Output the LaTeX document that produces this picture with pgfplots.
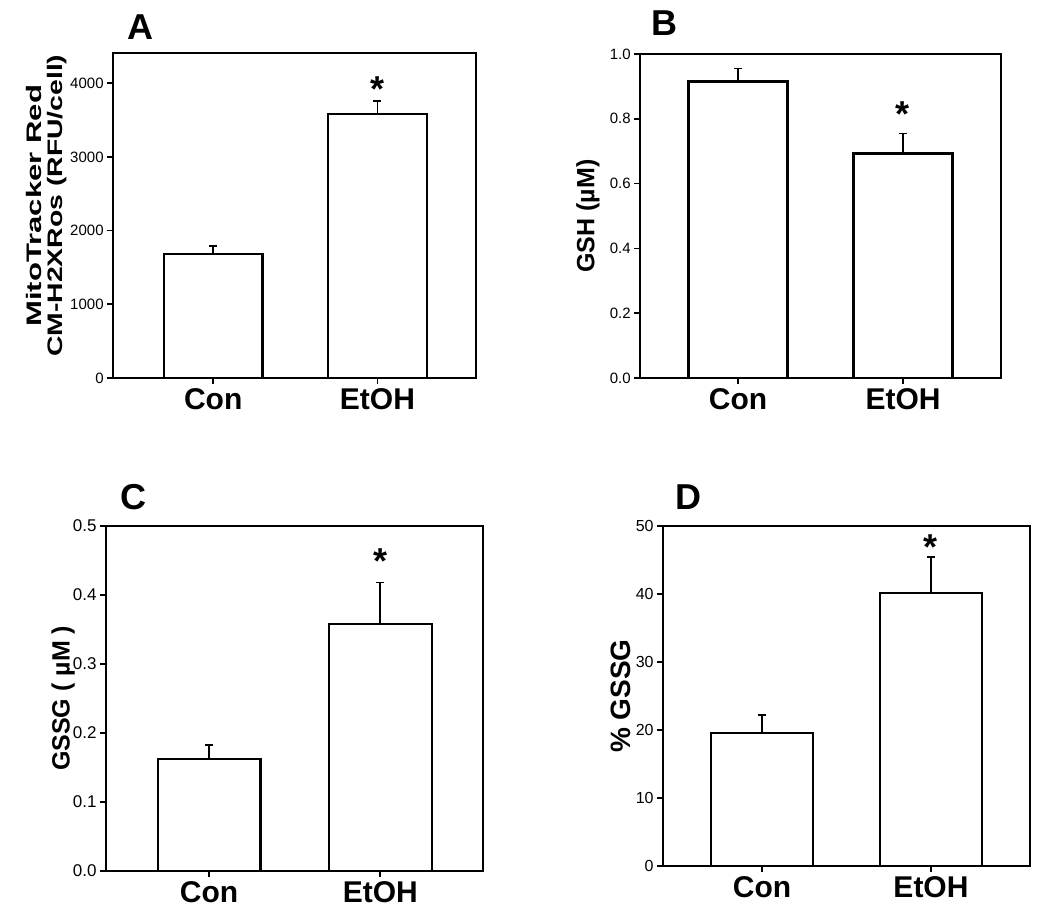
\documentclass[border=0pt]{standalone}
\usepackage{fontspec}
\setmainfont{Liberation Sans}
\usepackage{pgfplots}
\pgfplotsset{compat=1.18}
\usepackage{graphicx}

\pgfplotsset{
  panel/.style={
    anchor=south west, scale only axis,
    ybar, bar width=0.6, ymin=0,
    axis line style={line width=1pt},
    tick pos=left, tick align=outside,
    major tick length=3pt,
    tick style={black, line width=0.8pt},
    xtick={1,2}, xticklabels={Con,EtOH},
    xticklabel style={font=\bfseries\fontsize{15}{15}\selectfont, inner sep=2pt},
    /pgf/number format/assume math mode=true,
    /pgf/number format/1000 sep={},
    scaled y ticks=false,
    yticklabel style={inner sep=1.5pt},
    ylabel style={font=\bfseries\fontsize{12.5}{13}\selectfont, align=center},
  },
  barplot/.style={draw=black, fill=white, line width=1.1pt,
    error bars/.cd, y dir=plus, y explicit,
    error bar style={line width=0.8pt},
    error mark options={rotate=90, line width=0.8pt, mark size=2pt}},
}
\tikzset{sigstar/.style={font=\bfseries\fontsize{18}{18}\selectfont, inner sep=0pt, anchor=north}}

\begin{document}
\begin{tikzpicture}
\useasboundingbox (0,0) rectangle (525pt,455.5pt);

% A: MitoTracker
\begin{axis}[panel, at={(56.5pt,266.5pt)}, width=181.5pt, height=162.5pt,
  xmin=0.39, xmax=2.60, ymax=4410, ytick={0,1000,2000,3000,4000},
  yticklabel style={font=\fontsize{7.5}{9}\selectfont},
  ylabel shift=-3.5pt,
  ylabel style={font=\bfseries\fontsize{10.5}{10.5}\selectfont, at={(ticklabel cs:0.53)}},
  ylabel={\scalebox{1.48}[1]{MitoTracker Red}\\\scalebox{1.35}[1]{CM-H2XRos (RFU/cell)}}]
  \addplot[barplot] coordinates {(1,1680) +- (0,110) (2,3580) +- (0,180)};
  \node[sigstar] at (axis cs:2,4098) {*};
\end{axis}

% B: GSH
\begin{axis}[panel, at={(320pt,266.5pt)}, width=180.5pt, height=162pt,
  xmin=0.406, xmax=2.594, ymax=1.0, ytick={0,0.2,0.4,0.6,0.8,1.0},
  yticklabel style={font=\fontsize{7.5}{9}\selectfont,
    /pgf/number format/.cd, fixed, fixed zerofill, precision=1},
  ylabel={GSH (µM)}]
  \addplot[barplot] coordinates {(1,0.915) +- (0,0.040) (2,0.693) +- (0,0.061)};
  \node[sigstar] at (axis cs:2,0.854) {*};
\end{axis}

% C: GSSG
\begin{axis}[panel, at={(53pt,20.15pt)}, width=188.5pt, height=172.35pt,
  xmin=0.398, xmax=2.60, ymax=0.5, ytick={0,0.1,0.2,0.3,0.4,0.5},
  yticklabel style={font=\fontsize{8.5}{10}\selectfont,
    /pgf/number format/.cd, fixed, fixed zerofill, precision=1},
  ylabel shift=-6pt,
  ylabel={GSSG ( µM )}]
  \addplot[barplot] coordinates {(1,0.162) +- (0,0.020) (2,0.358) +- (0,0.060)};
  \node[sigstar] at (axis cs:2,0.468) {*};
\end{axis}

% D: % GSSG
\begin{axis}[panel, at={(331.5pt,22.5pt)}, width=183.5pt, height=170pt,
  xmin=0.414, xmax=2.586, ymax=50, ytick={0,10,20,30,40,50},
  yticklabel style={font=\fontsize{8}{10}\selectfont},
  ylabel shift=-2.5pt,
  ylabel={\% GSSG}, ylabel style={font=\bfseries\fontsize{14}{15}\selectfont}]
  \addplot[barplot] coordinates {(1,19.6) +- (0,2.65) (2,40.2) +- (0,5.2)};
  \node[sigstar] at (axis cs:2,48.8) {*};
\end{axis}

\node[font=\bfseries\fontsize{18}{18}\selectfont] at (70pt,442pt) {A};
\node[font=\bfseries\fontsize{18}{18}\selectfont] at (332pt,444pt) {B};
\node[font=\bfseries\fontsize{18}{18}\selectfont] at (66.5pt,207pt) {C};
\node[font=\bfseries\fontsize{18}{18}\selectfont] at (344pt,207pt) {D};
\end{tikzpicture}
\end{document}
